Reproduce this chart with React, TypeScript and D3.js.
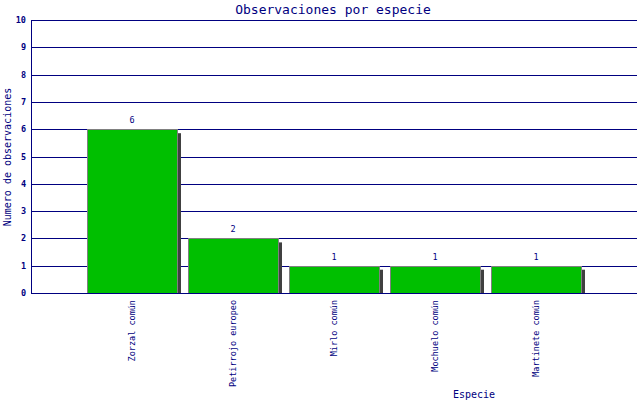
import { useEffect, useRef } from 'react';
import * as d3 from 'd3';

const species = ['Zorzal común', 'Petirrojo europeo', 'Mirlo común', 'Mochuelo común', 'Martinete común'];
const counts = [6, 2, 1, 1, 1];
const yTicks = [0, 1, 2, 3, 4, 5, 6, 7, 8, 9, 10];

const navy = '#000080';
const mono = '"DejaVu Sans Mono", monospace';

export default function App() {
  const svgRef = useRef<SVGSVGElement>(null);
  const width = 640;
  const height = 400;

  useEffect(() => {
    if (!svgRef.current) return;
    const svg = d3.select(svgRef.current);
    svg.selectAll('*').remove();

    const margin = { top: 20, right: 3, bottom: 107, left: 31 };
    const innerWidth = width - margin.left - margin.right;
    const innerHeight = height - margin.top - margin.bottom;

    svg.append('rect').attr('width', width).attr('height', height).attr('fill', '#fff');

    const g = svg.append('g').attr('transform', `translate(${margin.left},${margin.top})`);

    // one empty slot on each side, bars sit on slot positions 1..n
    const x = d3.scaleLinear().domain([0, species.length + 1]).range([0, innerWidth]);
    const y = d3.scaleLinear().domain([0, 10]).range([innerHeight, 0]);
    const barWidth = 90;
    const shadow = 4;

    // grid
    g.selectAll('line.grid')
      .data(yTicks.filter(t => t > 0))
      .enter()
      .append('line')
      .attr('class', 'grid')
      .attr('x1', 0)
      .attr('x2', innerWidth)
      .attr('y1', d => Math.round(y(d)) + 0.5)
      .attr('y2', d => Math.round(y(d)) + 0.5)
      .attr('stroke', navy)
      .attr('stroke-width', 1);

    // shadows
    g.selectAll('rect.shadow')
      .data(counts)
      .enter()
      .append('rect')
      .attr('class', 'shadow')
      .attr('x', (_, i) => x(i + 1) - barWidth / 2 + shadow)
      .attr('y', d => y(d) + shadow)
      .attr('width', barWidth)
      .attr('height', d => innerHeight - y(d) - shadow)
      .attr('fill', '#404040');

    // bars
    g.selectAll('rect.bar')
      .data(counts)
      .enter()
      .append('rect')
      .attr('class', 'bar')
      .attr('x', (_, i) => x(i + 1) - barWidth / 2 + 0.5)
      .attr('y', d => Math.round(y(d)) + 0.5)
      .attr('width', barWidth)
      .attr('height', d => innerHeight - Math.round(y(d)))
      .attr('fill', '#00bf00')
      .attr('stroke', '#808080')
      .attr('stroke-width', 1);

    // value labels
    g.selectAll('text.value')
      .data(counts)
      .enter()
      .append('text')
      .attr('class', 'value')
      .attr('x', (_, i) => x(i + 1))
      .attr('y', d => y(d) - 6)
      .attr('text-anchor', 'middle')
      .style('font-family', mono)
      .style('font-size', '8.5px')
      .style('fill', navy)
      .text(d => d);

    // axes lines
    g.append('line')
      .attr('x1', 0.5).attr('x2', 0.5)
      .attr('y1', 0).attr('y2', innerHeight)
      .attr('stroke', navy);
    g.append('line')
      .attr('x1', 0).attr('x2', innerWidth)
      .attr('y1', innerHeight + 0.5).attr('y2', innerHeight + 0.5)
      .attr('stroke', navy);

    // y tick labels
    g.selectAll('text.ytick')
      .data(yTicks)
      .enter()
      .append('text')
      .attr('class', 'ytick')
      .attr('x', -5)
      .attr('y', d => y(d) + 3)
      .attr('text-anchor', 'end')
      .style('font-family', mono)
      .style('font-size', '8.5px')
      .style('font-weight', 'bold')
      .style('fill', navy)
      .text(d => d);

    // category labels
    g.selectAll('text.cat')
      .data(species)
      .enter()
      .append('text')
      .attr('class', 'cat')
      .attr('transform', (_, i) => `translate(${x(i + 1) + 3},${innerHeight + 7}) rotate(-90)`)
      .attr('text-anchor', 'end')
      .style('font-family', mono)
      .style('font-size', '8.5px')
      .style('fill', navy)
      .text(d => d);

    // title and axis titles
    svg.append('text')
      .attr('x', 333)
      .attr('y', 14)
      .attr('text-anchor', 'middle')
      .style('font-family', mono)
      .style('font-size', '13px')
      .style('fill', navy)
      .text('Observaciones por especie');

    svg.append('text')
      .attr('transform', 'translate(11,157) rotate(-90)')
      .attr('text-anchor', 'middle')
      .style('font-family', mono)
      .style('font-size', '10px')
      .style('fill', navy)
      .text('Numero de observaciones');

    svg.append('text')
      .attr('x', 474)
      .attr('y', 398)
      .attr('text-anchor', 'middle')
      .style('font-family', mono)
      .style('font-size', '10px')
      .style('fill', navy)
      .text('Especie');
  }, []);

  return (
    <svg
      ref={svgRef}
      width={width}
      height={height}
      style={{ position: 'absolute', left: 0, top: 0, display: 'block' }}
    />
  );
}
